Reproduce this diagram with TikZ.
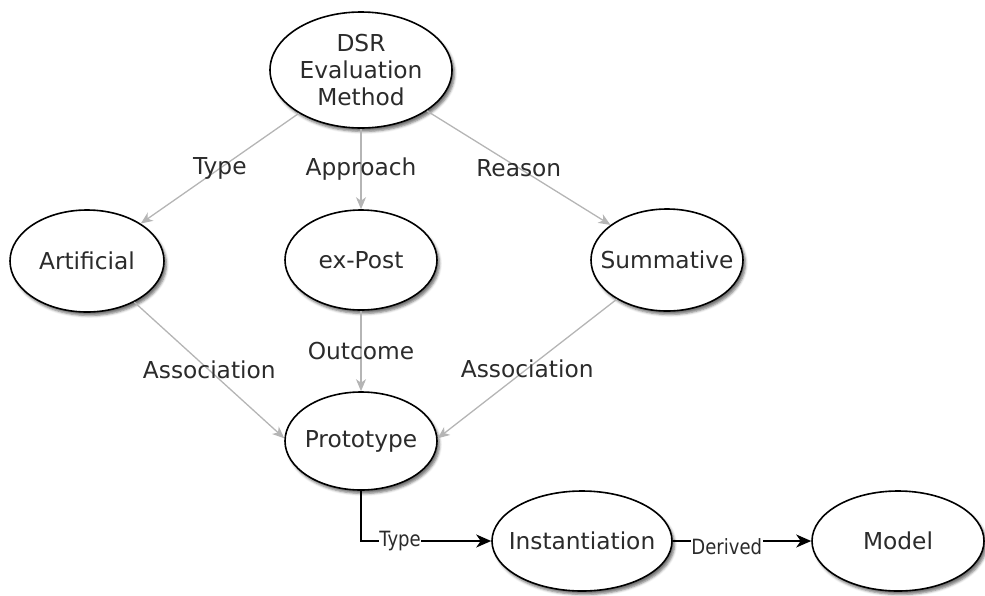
\documentclass[tikz,border=0pt]{standalone}
\usepackage{fontspec}
\setmainfont{DejaVu Sans}
\newfontfamily\edgefont{DejaVu Sans}[FakeStretch=0.86]
\usetikzlibrary{shapes.geometric,arrows.meta,shadows.blur}
\definecolor{inkgray}{HTML}{2B2B2B}
\definecolor{edgegray}{HTML}{B5B5B5}
\begin{document}
\begin{tikzpicture}[x=1pt,y=-1pt,
  oval/.style={ellipse, draw=black, line width=1.6pt, fill=white,
    inner xsep=-30pt, inner ysep=-8pt, text=inkgray, align=center,
    font=\fontsize{23.3}{27}\selectfont,
    blur shadow={shadow xshift=2.5pt, shadow yshift=-3.5pt,
      shadow blur radius=2.5pt, shadow opacity=55}},
  soft/.style={draw=edgegray, line width=1.3pt,
    -{Stealth[length=12pt,width=10pt,inset=3.5pt]}},
  firm/.style={draw=black, line width=1.7pt,
    -{Stealth[length=15pt,width=13pt,inset=4.5pt]}},
  softlabel/.style={text=inkgray, font=\fontsize{23.3}{27}\selectfont, inner sep=0pt},
  firmlabel/.style={text=inkgray, font=\edgefont\fontsize{21}{25}\selectfont,
    fill=white, inner sep=0.5pt}]
\useasboundingbox (0,0) rectangle (985,595);

% evaluation method and its three facets
\node[oval, minimum width=182pt, minimum height=116pt] (dsr) at (361,70) {DSR\\Evaluation\\Method};
\node[oval, minimum width=154pt, minimum height=102pt] (art) at (87,261) {Artificial};
\node[oval, minimum width=152pt, minimum height=100pt] (expost) at (361,260) {ex-Post};
\node[oval, minimum width=152pt, minimum height=102pt] (summ) at (667,260) {Summative};

% artefact chain
\node[oval, minimum width=152pt, minimum height=98pt] (proto) at (361,441) {Prototype};
\node[oval, minimum width=180pt, minimum height=100pt] (inst) at (582,541) {Instantiation};
\node[oval, minimum width=172pt, minimum height=100pt] (model) at (898,541) {Model};

% grey relations
\draw[soft] (dsr) -- node[softlabel] (lbtype) {Type} (art);
\draw[soft] (dsr) -- node[softlabel] (lbappr) {Approach} (expost);
\draw[soft] (dsr) -- node[softlabel] (lbreas) {Reason} (summ);
\draw[soft] (art.-41) -- node[softlabel] (lbassl) {Association} (proto.178);
\draw[soft] (expost) -- node[softlabel] (lbout) {Outcome} (proto);
\draw[soft] (summ.-142) -- node[softlabel] (lbassr) {Association} (proto.2);

% black derivation path
\draw[firm] (proto.south) |- node[firmlabel, pos=0.65] (lbinst) {Type} (inst.west);
\draw[firm] (inst.east) -- node[firmlabel, pos=0.39, yshift=-6pt] (lbder) {Derived} (model.west);
\end{tikzpicture}
\end{document}
